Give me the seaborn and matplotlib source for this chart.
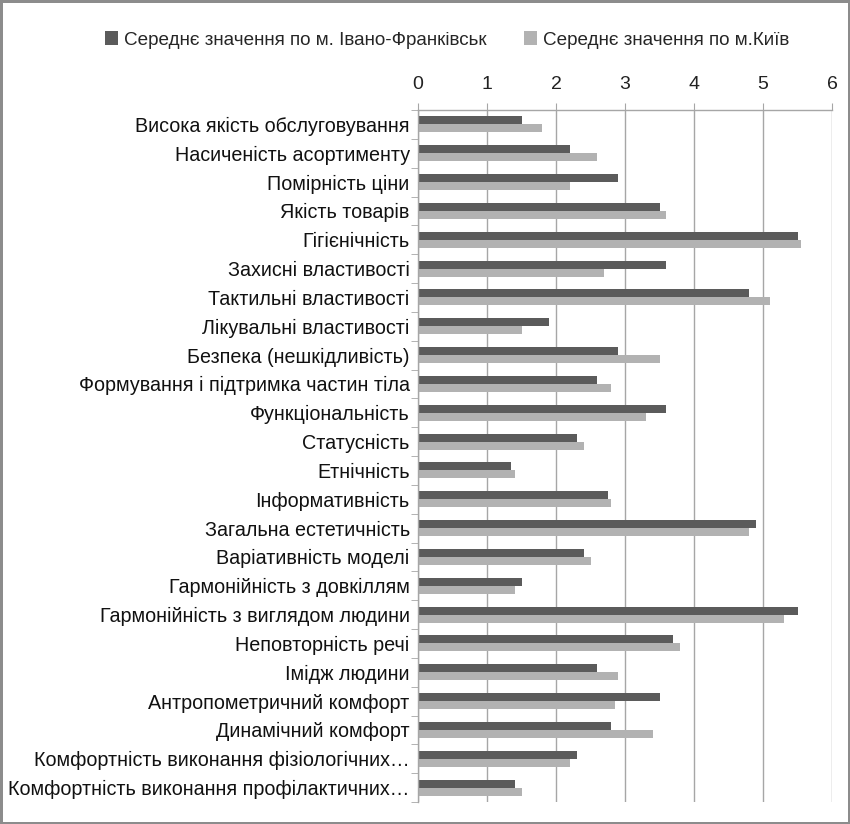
import matplotlib
matplotlib.use("Agg")
import matplotlib.pyplot as plt
import seaborn as sns
import pandas as pd
from matplotlib.patches import Patch
from matplotlib.ticker import FixedLocator

categories = [
    "Висока якість обслуговування",
    "Насиченість асортименту",
    "Помірність ціни",
    "Якість товарів",
    "Гігієнічність",
    "Захисні властивості",
    "Тактильні властивості",
    "Лікувальні властивості",
    "Безпека (нешкідливість)",
    "Формування і підтримка частин тіла",
    "Функціональність",
    "Статусність",
    "Етнічність",
    "Інформативність",
    "Загальна естетичність",
    "Варіативність моделі",
    "Гармонійність з довкіллям",
    "Гармонійність з виглядом людини",
    "Неповторність речі",
    "Імідж людини",
    "Антропометричний комфорт",
    "Динамічний комфорт",
    "Комфортність виконання фізіологічних…",
    "Комфортність виконання профілактичних…",
]
ivano_frankivsk = [1.5, 2.2, 2.9, 3.5, 5.5, 3.6, 4.8, 1.9, 2.9, 2.6, 3.6, 2.3, 1.35,
                   2.75, 4.9, 2.4, 1.5, 5.5, 3.7, 2.6, 3.5, 2.8, 2.3, 1.4]
kyiv = [1.8, 2.6, 2.2, 3.6, 5.55, 2.7, 5.1, 1.5, 3.5, 2.8, 3.3, 2.4, 1.4,
        2.8, 4.8, 2.5, 1.4, 5.3, 3.8, 2.9, 2.85, 3.4, 2.2, 1.5]
series_names = ["Середнє значення по м. Івано-Франківськ", "Середнє значення по м.Київ"]
x_ticks = [0, 1, 2, 3, 4, 5, 6]

df = pd.DataFrame({
    "category": categories * 2,
    "value": ivano_frankivsk + kyiv,
    "series": [series_names[0]] * len(categories) + [series_names[1]] * len(categories),
})

sns.set_style("white")
plt.rcParams["font.family"] = ["Liberation Sans", "DejaVu Sans"]

dark = "#5b5b5b"
light = "#b2b2b2"
grid_c = "#a6a6a6"

fig = plt.figure(figsize=(8.5, 8.24), dpi=100)
fig.patch.set_edgecolor("#8c8c8c")
fig.patch.set_linewidth(2.5)
ax = fig.add_axes([418 / 850, 1 - 802 / 824, (832 - 418) / 850, (802 - 110) / 824])

sns.barplot(data=df, y="category", x="value", hue="series", orient="h",
            palette=[dark, light], width=0.56, gap=0, linewidth=0,
            legend=False, ax=ax, order=categories, hue_order=series_names)

ax.set_xlim(0, 6)
ax.set_ylim(len(categories) - 0.5, -0.5)
ax.set_xticks(x_ticks)
ax.set_xticklabels([str(t) for t in x_ticks])
ax.xaxis.tick_top()
ax.tick_params(axis="x", which="major", direction="out", length=5, color=grid_c,
               labelsize=14, labelcolor="#222222", pad=7, top=True, bottom=False)
ax.grid(axis="x", color=grid_c, linewidth=1)
ax.set_axisbelow(True)
ax.set_xlabel("")
ax.set_ylabel("")

ax.yaxis.set_minor_locator(FixedLocator([i - 0.5 for i in range(len(categories) + 1)]))
ax.tick_params(axis="y", which="major", length=0, labelsize=14.2, labelcolor="#111111", pad=6)
ax.tick_params(axis="y", which="minor", direction="out", length=5, color=grid_c, left=True)

for side in ["right", "bottom"]:
    ax.spines[side].set_visible(False)
for side in ["left", "top"]:
    ax.spines[side].set_visible(True)
    ax.spines[side].set_color(grid_c)
    ax.spines[side].set_linewidth(1)

handles = [Patch(facecolor=dark, edgecolor="none"), Patch(facecolor=light, edgecolor="none")]
fig.legend(handles, series_names, loc="center", bbox_to_anchor=(447 / 850, 1 - 40 / 824),
           ncol=2, frameon=False, fontsize=13.6, handlelength=0.7, handleheight=0.7,
           handletextpad=0.3, columnspacing=2.0)

fig.savefig("out.png", dpi=100, edgecolor=fig.get_edgecolor())
